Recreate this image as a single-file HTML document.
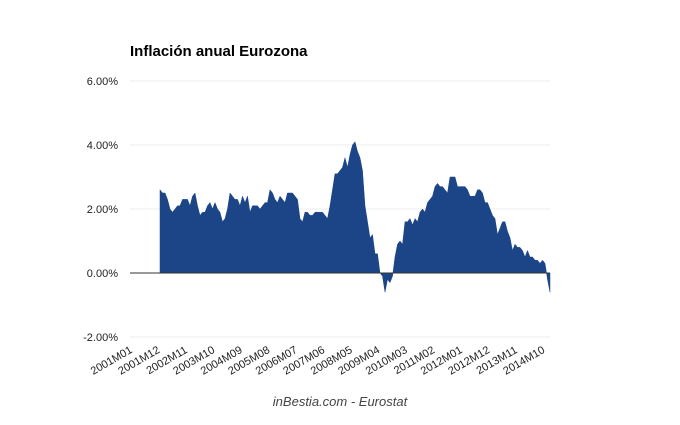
<!DOCTYPE html>
<html><head><meta charset="utf-8"><style>
body{margin:0;background:#fff;font-family:"Liberation Sans",Arial,sans-serif}
svg text{font-family:"Liberation Sans",Arial,sans-serif}
</style></head><body>
<svg id="chart" width="680" height="420" xmlns="http://www.w3.org/2000/svg">
<rect width="680" height="420" fill="#fff"/>
<text x="130" y="56" font-size="15" font-weight="bold" fill="#000">Inflación anual Eurozona</text>
<g id="grid"></g><g id="area"></g><g id="axes"></g>
<text x="340" y="406" font-size="13" font-style="italic" fill="#444" text-anchor="middle">inBestia.com - Eurostat</text>
</svg>
<script>
const yTicks=[6,4,2,0,-2];
const yTickLabels=["6.00%","4.00%","2.00%","0.00%","-2.00%"];
const xTickLabels=["2001M01","2001M12","2002M11","2003M10","2004M09","2005M08","2006M07","2007M06","2008M05","2009M04","2010M03","2011M02","2012M01","2012M12","2013M11","2014M10"];
const nCategories=169;
const startIndex=12;
const values=[
2.6,2.5,2.5,2.3,2.0,1.9,2.0,2.1,2.1,2.3,2.3,2.3,
2.1,2.4,2.5,2.1,1.8,1.9,1.9,2.1,2.2,2.0,2.2,2.0,
1.9,1.6,1.7,2.0,2.5,2.4,2.3,2.3,2.1,2.4,2.2,2.4,
1.9,2.1,2.1,2.1,2.0,2.1,2.2,2.2,2.6,2.5,2.3,2.2,
2.4,2.3,2.2,2.5,2.5,2.5,2.4,2.3,1.7,1.6,1.9,1.9,
1.8,1.8,1.9,1.9,1.9,1.9,1.8,1.7,2.1,2.6,3.1,3.1,
3.2,3.3,3.6,3.3,3.7,4.0,4.1,3.8,3.6,3.2,2.1,1.6,
1.1,1.2,0.6,0.6,0.0,-0.1,-0.6,-0.2,-0.3,-0.1,0.5,0.9,
1.0,0.9,1.6,1.6,1.7,1.5,1.7,1.6,1.9,2.0,1.9,2.2,
2.3,2.4,2.7,2.8,2.7,2.7,2.6,2.5,3.0,3.0,3.0,2.7,
2.7,2.7,2.7,2.6,2.4,2.4,2.4,2.6,2.6,2.5,2.2,2.2,
2.0,1.8,1.7,1.2,1.4,1.6,1.6,1.3,1.1,0.7,0.9,0.8,
0.8,0.7,0.5,0.7,0.5,0.5,0.4,0.4,0.3,0.4,0.3,-0.2,
-0.6];
const X0=130,X1=550,Y0=273,PX=32;
const xs=i=>X0+i*(X1-X0)/(nCategories-1);
const ys=v=>Y0-v*PX;
const NS="http://www.w3.org/2000/svg";
function mk(t,a,p){const e=document.createElementNS(NS,t);for(const k in a)e.setAttribute(k,a[k]);p.appendChild(e);return e;}
const grid=document.getElementById('grid'),axes=document.getElementById('axes'),area=document.getElementById('area');
yTicks.forEach((v,i)=>{
 const l=mk('line',{x1:X0,x2:X1,y1:ys(v),y2:ys(v),stroke:'#eee','stroke-width':1},grid);
 
 
 const t=mk('text',{x:118,y:ys(v)+4,'font-size':11,'text-anchor':'end',fill:'#222'},axes);
 t.textContent=yTickLabels[i];
 
 
});
let d='M'+xs(startIndex)+','+ys(0);
values.forEach((v,k)=>{d+=' L'+xs(startIndex+k).toFixed(2)+','+ys(v).toFixed(2);});
d+=' L'+xs(startIndex+values.length-1)+','+ys(0)+' Z';
const p=mk('path',{d:d,fill:'#1c4587',stroke:'#1c4587','stroke-width':0.5},area);


const z=mk('line',{x1:X0,x2:X1,y1:Y0,y2:Y0,stroke:'#333','stroke-width':1},axes);


xTickLabels.forEach((s,i)=>{
 const x=xs(i*11)+3,y=352;
 const t=mk('text',{x:x,y:y,'font-size':11,'text-anchor':'end',fill:'#222',transform:`rotate(-30 ${x} ${y})`},axes);
 t.textContent=s;
 
 
});
</script>
</body></html>
